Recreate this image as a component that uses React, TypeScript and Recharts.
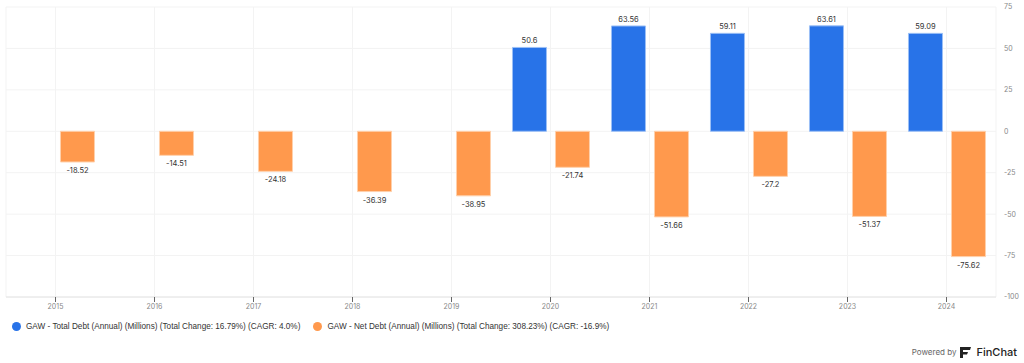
import React from "react";
import {
  BarChart,
  Bar,
  XAxis,
  YAxis,
  CartesianGrid,
  LabelList,
} from "recharts";

const years = ["2015", "2016", "2017", "2018", "2019", "2020", "2021", "2022", "2023", "2024"];
const totalDebt: (number | null)[] = [null, null, null, null, null, 50.6, 63.56, 59.11, 63.61, 59.09];
const netDebt = [-18.52, -14.51, -24.18, -36.39, -38.95, -21.74, -51.66, -27.2, -51.37, -75.62];
const yTicks = [75, 50, 25, 0, -25, -50, -75, -100];

const totalLabel = "GAW - Total Debt (Annual) (Millions) (Total Change: 16.79%) (CAGR: 4.0%)";
const netLabel = "GAW - Net Debt (Annual) (Millions) (Total Change: 308.23%) (CAGR: -16.9%)";

const BLUE = "#2873e8";
const ORANGE = "#ff994d";

const data = years.map((year, i) => ({
  year,
  total: totalDebt[i],
  net: netDebt[i],
}));

// value label above positive bars, below negative ones
const renderValue = (props: any) => {
  const { x, y, width, height, value } = props;
  if (value === null || value === undefined) return null;
  const top = Math.min(y, y + height);
  const bottom = Math.max(y, y + height);
  const cx = x + width / 2;
  const ty = value >= 0 ? top - 4 : bottom + 11;
  return (
    <text
      x={cx}
      y={ty}
      textAnchor="middle"
      fontSize={7.5}
      fontFamily="Inter, sans-serif"
      fill="#333"
    >
      {value}
    </text>
  );
};

const Dot = ({ color }: { color: string }) => (
  <span
    style={{
      display: "inline-block",
      width: 9,
      height: 9,
      borderRadius: "50%",
      background: color,
      marginRight: 5,
    }}
  />
);

export default function App() {
  return (
    <div
      style={{
        position: "absolute",
        left: 0,
        top: 0,
        width: 1024,
        height: 363,
        background: "#fff",
        overflow: "hidden",
      }}
    >
      <BarChart
        width={1024}
        height={321}
        data={data}
        margin={{ top: 7, right: 0, bottom: 0, left: 6 }}
        barCategoryGap="11.6%"
        barGap={9}
      >
        <CartesianGrid stroke="#f3f3f3" />
        <XAxis
          dataKey="year"
          height={24}
          axisLine={{ stroke: "#e4e4e4" }}
          tickLine={{ stroke: "#666" }}
          tickSize={5}
          tick={{ fill: "#888", fontSize: 7, fontFamily: "Inter, sans-serif" }}
        />
        <YAxis
          orientation="right"
          width={28}
          domain={[-100, 75]}
          ticks={yTicks}
          axisLine={false}
          tickLine={false}
          tick={{ fill: "#888", fontSize: 7, fontFamily: "Inter, sans-serif" }}
        />
        <Bar dataKey="total" fill={BLUE} stroke="#9cc0f6" strokeWidth={1} isAnimationActive={false}>
          <LabelList dataKey="total" content={renderValue} />
        </Bar>
        <Bar dataKey="net" fill={ORANGE} stroke="#ffd0ab" strokeWidth={1} isAnimationActive={false}>
          <LabelList dataKey="net" content={renderValue} />
        </Bar>
      </BarChart>

      <div
        style={{
          position: "absolute",
          left: 12,
          top: 322,
          display: "flex",
          alignItems: "center",
          fontFamily: "'Liberation Sans', Arial, sans-serif",
          fontSize: 8.2,
          color: "#333",
          whiteSpace: "nowrap",
        }}
      >
        <span style={{ display: "flex", alignItems: "center" }}>
          <Dot color={BLUE} />
          {totalLabel}
        </span>
        <span style={{ display: "flex", alignItems: "center", marginLeft: 13 }}>
          <Dot color={ORANGE} />
          {netLabel}
        </span>
      </div>

      <div
        style={{
          position: "absolute",
          right: 7,
          top: 345,
          display: "flex",
          alignItems: "center",
          fontFamily: "Inter, sans-serif",
          whiteSpace: "nowrap",
        }}
      >
        <span style={{ fontSize: 8, color: "#666" }}>Powered by</span>
        <svg width={11} height={11} viewBox="0 0 11 11" style={{ margin: "0 5px 0 4px" }}>
          <path d="M0 0 H11 L10 3 H3 V11 H0 Z" fill="#222" />
          <path d="M3 5 H8 L7 7.5 H3 Z" fill="#222" />
        </svg>
        <span style={{ fontSize: 11, color: "#222", fontWeight: 500 }}>FinChat</span>
      </div>
    </div>
  );
}
